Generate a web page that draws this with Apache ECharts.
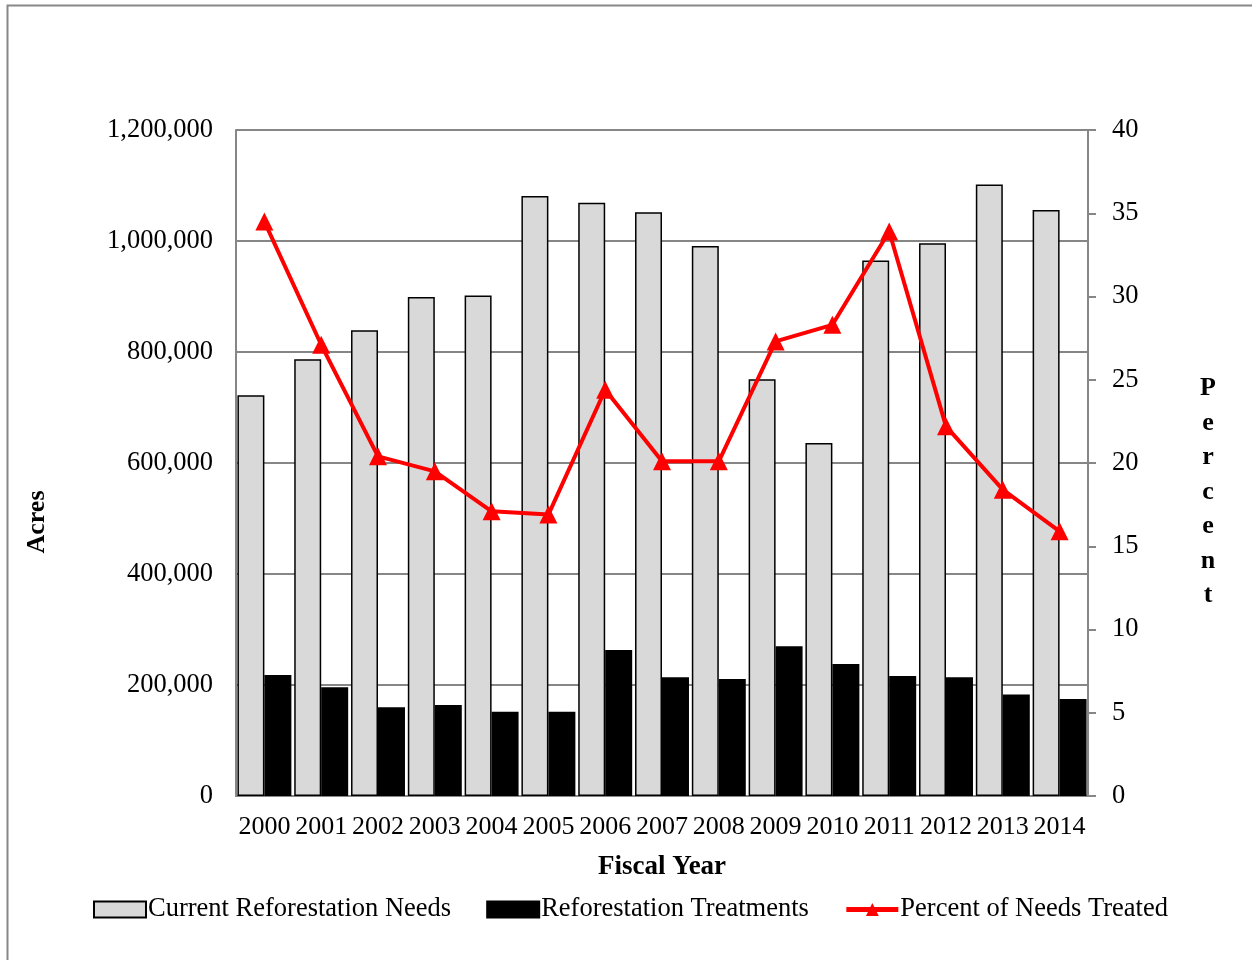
<!DOCTYPE html>
<html>
<head>
<meta charset="utf-8">
<script src="https://cdn.jsdelivr.net/npm/echarts@6/dist/echarts.min.js"></script>
<style>
  html, body { margin: 0; padding: 0; background: #fff; }
  #chart { width: 1252px; height: 960px; }
</style>
</head>
<body>
<div id="chart"></div>
<script>
var years = ['2000', '2001', '2002', '2003', '2004', '2005', '2006', '2007', '2008', '2009', '2010', '2011', '2012', '2013', '2014'];
var needs = [722000, 787000, 839000, 899000, 902000, 1081000, 1069000, 1052000, 991000, 751000, 636000, 965000, 996000, 1102000, 1056000];
var treatments = [218000, 196000, 160000, 164000, 152000, 152000, 263000, 214000, 211000, 270000, 238000, 216000, 214000, 183000, 175000];
var percentTreated = [34.5, 27.1, 20.4, 19.5, 17.1, 16.9, 24.4, 20.1, 20.1, 27.3, 28.3, 33.9, 22.2, 18.4, 15.9];

var font = '"Liberation Serif", "Times New Roman", serif';
var gray = '#868686';

var myChart = echarts.init(document.getElementById('chart'));
var option = {
    backgroundColor: '#fff',
    animation: false,
    textStyle: {fontFamily: font, color: '#000'},
    grid: {left: 236, right: 164, top: 130, bottom: 164},
    graphic: [
        {
            type: 'rect',
            shape: {x: 7.5, y: 5.5, width: 1260, height: 980},
            style: {fill: 'none', stroke: '#888', lineWidth: 2}
        },
        {
            type: 'text',
            x: 37, y: 522,
            rotation: Math.PI / 2,
            style: {
                text: 'Acres', fontFamily: font, fontWeight: 'bold', fontSize: 26,
                fill: '#000', align: 'center', verticalAlign: 'middle'
            }
        },
        {
            type: 'text',
            x: 1208, y: 492,
            style: {
                text: 'Percent'.split('').join('\n'), fontFamily: font, fontWeight: 'bold', fontSize: 26,
                lineHeight: 34.5, fill: '#000', align: 'center', verticalAlign: 'middle'
            }
        }
    ],
    legend: {
        left: 88, top: 891,
        itemWidth: 52, itemHeight: 16, itemGap: 35,
        textStyle: {fontFamily: font, fontSize: 26.5, color: '#000', padding: [0, 0, 0, -3]},
        data: [
            {name: 'Current Reforestation Needs', icon: 'rect'},
            {name: 'Reforestation Treatments', icon: 'rect'},
            {name: 'Percent of Needs Treated', lineStyle: {width: 5}}
        ]
    },
    xAxis: {
        type: 'category',
        data: years,
        name: 'Fiscal Year',
        nameLocation: 'middle',
        nameGap: 58,
        nameTextStyle: {fontFamily: font, fontWeight: 'bold', fontSize: 27, color: '#000'},
        axisLine: {lineStyle: {color: gray, width: 2}},
        axisTick: {show: false},
        axisLabel: {fontFamily: font, fontSize: 26, color: '#000', margin: 18, interval: 0, hideOverlap: false}
    },
    yAxis: [
        {
            type: 'value',
            min: 0, max: 1200000, interval: 200000,
            axisLine: {show: true, lineStyle: {color: gray, width: 2}},
            axisTick: {show: false},
            splitLine: {lineStyle: {color: gray, width: 2}},
            axisLabel: {
                fontFamily: font, fontSize: 26.5, color: '#000', margin: 23,
                formatter: function (v) { return v.toLocaleString('en-US'); }
            }
        },
        {
            type: 'value',
            min: 0, max: 40, interval: 5,
            axisLine: {show: true, lineStyle: {color: gray, width: 2}},
            axisTick: {show: true, length: 8, lineStyle: {color: gray, width: 2}},
            splitLine: {show: false},
            axisLabel: {fontFamily: font, fontSize: 26.5, color: '#000', margin: 24}
        }
    ],
    series: [
        {
            name: 'Current Reforestation Needs',
            type: 'bar',
            data: needs,
            barGap: '0%',
            barCategoryGap: '5%',
            itemStyle: {color: '#d9d9d9', borderColor: '#000', borderWidth: 1.5}
        },
        {
            name: 'Reforestation Treatments',
            type: 'bar',
            data: treatments,
            itemStyle: {color: '#000', borderColor: '#000', borderWidth: 1.5}
        },
        {
            name: 'Percent of Needs Treated',
            type: 'line',
            yAxisIndex: 1,
            data: percentTreated,
            symbol: 'triangle',
            symbolSize: 18,
            lineStyle: {color: '#ff0000', width: 4},
            itemStyle: {color: '#ff0000'}
        }
    ]
};

myChart.setOption(option);
</script>
</body>
</html>
